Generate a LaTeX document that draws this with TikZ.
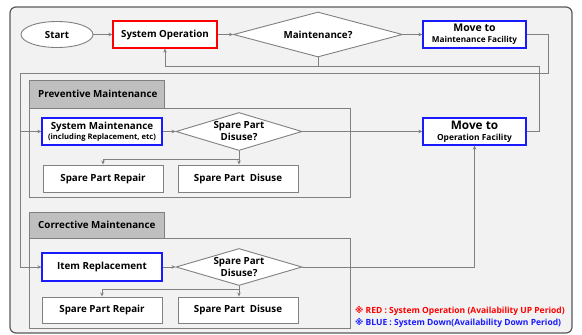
\documentclass[tikz,border=0pt]{standalone}
\usepackage{fontspec}
\setmainfont{Open Sans}
\newfontfamily\symfont{DejaVu Sans}
\usetikzlibrary{shapes.geometric,arrows.meta}
\definecolor{bgc}{HTML}{F2F2F2}
\definecolor{tabc}{HTML}{BFBFBF}
\definecolor{lgray}{HTML}{808080}
\definecolor{dgray}{HTML}{595959}
\definecolor{redc}{HTML}{FF0000}
\definecolor{bluec}{HTML}{1A1AFF}
\tikzset{
  box/.style={draw=lgray, fill=white, line width=0.9pt, minimum width=120, minimum height=27, inner sep=0, align=center},
  redbox/.style={box, draw=redc, line width=1.2pt},
  bluebox/.style={box, draw=bluec, line width=1.2pt},
  dia/.style={diamond, draw=lgray, fill=white, line width=0.9pt, align=center, inner sep=-6pt},
  conn/.style={draw=lgray, line width=1pt},
  arr/.style={conn, -{Stealth[length=4pt,width=3.5pt]}},
  grp/.style={draw=lgray, fill=bgc, line width=1pt},
  tab/.style={draw=lgray, fill=tabc, line width=1pt},
  tabtext/.style={anchor=west, inner sep=0},
  legend/.style={anchor=west, inner sep=0, font=\fontsize{8.5}{10}\selectfont\bfseries}
}
\begin{document}
\begin{tikzpicture}[x=1pt,y=-1pt,font=\fontsize{9.8}{12}\selectfont\bfseries]
\useasboundingbox (0,0) rectangle (582,335);
\draw[draw=dgray, fill=bgc, line width=1.2pt, rounded corners=6pt] (10,7) rectangle (572,333);
% groups
\draw[grp] (29,108) rectangle (350,197);
\draw[tab] (29,80) rectangle (164,108);
\node[tabtext] (ptab) at (38,94) {Preventive Maintenance};
\draw[grp] (29,238) rectangle (350,328);
\draw[tab] (29,212) rectangle (164,238);
\node[tabtext] (ctab) at (38,225) {Corrective Maintenance};
% top row
\node[draw=lgray, fill=white, line width=0.9pt, ellipse, minimum width=72, minimum height=26, inner sep=0] (start) at (57,34.5) {Start};
\node[redbox, minimum width=104] (sysop) at (165,34.5) {System Operation};
\node[dia, aspect=3.75, inner sep=0, minimum width=169, minimum height=45] (maint) at (318,34.5) {Maintenance?};
\node[bluebox, minimum width=103] (mmf) at (474.5,34.5) {{\fontsize{10.5}{12.5}\selectfont Move to}\\[-1pt]{\fontsize{8.2}{10}\selectfont Maintenance Facility}};
% preventive
\node[bluebox] (sysmaint) at (102,131.5) {System Maintenance\\[-2pt]{\fontsize{7.6}{9}\selectfont (including Replacement, etc)}};
\node[dia, aspect=3.3, minimum width=126, minimum height=38] (spd1) at (239,131.5) {Spare Part\\Disuse?};
\node[bluebox, minimum width=103] (mof) at (474.5,131.5) {{\fontsize{11.8}{13}\selectfont Move to}\\[-1pt]{\fontsize{8.4}{10}\selectfont Operation Facility}};
\node[box] (spr1) at (103,178.5) {Spare Part Repair};
\node[box] (spdis1) at (238,178.5) {Spare Part~~Disuse};
% corrective
\node[bluebox, minimum height=28] (itemrep) at (102,267) {Item Replacement};
\node[dia, aspect=3.4, minimum width=126, minimum height=37] (spd2) at (239,267) {Spare Part\\Disuse?};
\node[box, minimum height=26] (spr2) at (102,310) {Spare Part Repair};
\node[box, minimum height=26] (spdis2) at (238,310) {Spare Part~~Disuse};
% legend
\node[legend, text=redc] (leg1) at (355,311) {{\symfont ※} RED : System Operation (Availability UP Period)};
\node[legend, text=bluec] (leg2) at (355,322.5) {{\symfont ※} BLUE : System Down(Availability Down Period)};
% coordinates
\coordinate (r1) at (548,73);
\coordinate (l1) at (20,73);
\coordinate (r2) at (539,66);
\coordinate (b1) at (239,159);
\coordinate (b2) at (239,289);
% connectors
\draw[arr] (start) -- (sysop);
\draw[arr] (sysop) -- (maint);
\draw[arr] (maint) -- (mmf);
\draw[arr] (mmf.east) -| (r1) -- (l1) |- (itemrep.west);
\draw[arr] (l1) |- (sysmaint.west);
\draw[arr] (mof.east) -| (r2) -| (sysop.south);
\draw[conn] (maint.south) -- (maint.south |- r2);
\draw[arr] (sysmaint) -- (spd1);
\draw[arr] (spd1.east) -- (mof.west);
\draw[arr] (spd1.south) -- (spd1.south |- spdis1.north);
\draw[arr] (b1) -| (spr1.north);
\draw[arr] (itemrep) -- (spd2);
\draw[arr] (spd2.east) -| (mof.south);
\draw[arr] (spd2.south) -- (spd2.south |- spdis2.north);
\draw[arr] (b2) -| (spr2.north);
\end{tikzpicture}
\end{document}
